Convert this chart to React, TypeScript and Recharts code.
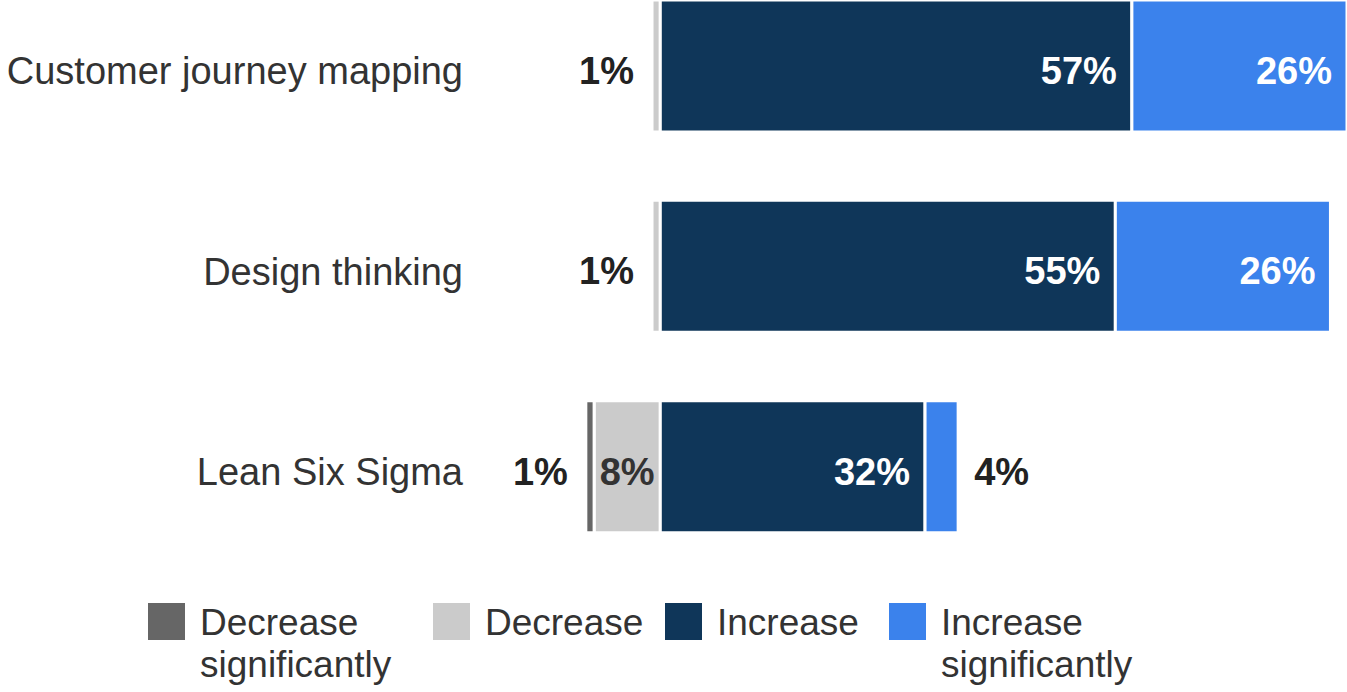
import React from 'react';
import { BarChart, Bar, XAxis, YAxis, LabelList } from 'recharts';

const categories = ['Customer journey mapping', 'Design thinking', 'Lean Six Sigma'];
const decreaseSignificantly = [0, 0, -1];
const decrease = [-1, -1, -8];
const increase = [57, 55, 32];
const increaseSignificantly = [26, 26, 4];

const seriesKeys = ['dec', 'decSig', 'inc', 'incSig'];
const seriesNames = ['Decrease', 'Decrease significantly', 'Increase', 'Increase significantly'];
const seriesColors = ['#CBCBCB', '#666666', '#0F3659', '#3B82EC'];
const legendOrder = [1, 0, 2, 3];

const data = categories.map((name, i) => ({
  name,
  decSig: decreaseSignificantly[i],
  dec: decrease[i],
  inc: increase[i],
  incSig: increaseSignificantly[i],
}));

const FONT = '"Liberation Sans", Arial, Helvetica, sans-serif';

const makeLabel = (kind: 'neg' | 'pos', insideColor: string) => (props: any) => {
  const { x, y, width, height, value } = props;
  if (!value) return null;
  const left = Math.min(x, x + width);
  const right = Math.max(x, x + width);
  const w = right - left;
  const cy = y + height / 2 + 5;
  const text = `${Math.abs(value)}%`;
  const common = {
    fontFamily: FONT,
    fontWeight: 700,
    fontSize: 38,
    dominantBaseline: 'central' as const,
  };
  if (w > 55) {
    if (kind === 'pos') {
      return (
        <text {...common} x={right - 15} y={cy} textAnchor="end" fill={insideColor}>
          {text}
        </text>
      );
    }
    return (
      <text {...common} x={(left + right) / 2} y={cy} textAnchor="middle" fill={insideColor}>
        {text}
      </text>
    );
  }
  if (kind === 'pos') {
    return (
      <text {...common} x={right + 16} y={cy} textAnchor="start" fill="#222222">
        {text}
      </text>
    );
  }
  return (
    <text {...common} x={left - 18} y={cy} textAnchor="end" fill="#222222">
      {text}
    </text>
  );
};

const labelColors: Record<string, string> = {
  dec: '#333333',
  decSig: '#ffffff',
  inc: '#ffffff',
  incSig: '#ffffff',
};

const CategoryTick = (props: any) => {
  const { x, y, payload } = props;
  return (
    <text
      x={x}
      y={y + 5}
      textAnchor="end"
      dominantBaseline="central"
      fontFamily={FONT}
      fontSize={38}
      fill="#333333"
    >
      {payload.value}
    </text>
  );
};

const Legend2 = () => {
  const lefts = [148, 433, 665, 889];
  return (
    <>
      {legendOrder.map((si, k) => {
        const name = seriesNames[si];
        const words = name.split(' ');
        return (
          <div
            key={name}
            style={{ position: 'absolute', left: lefts[k], top: 603, display: 'flex', alignItems: 'flex-start' }}
          >
            <div style={{ width: 37, height: 37, background: seriesColors[si], flex: 'none' }} />
            <div
              style={{
                marginLeft: 15,
                fontFamily: FONT,
                fontSize: 37,
                lineHeight: '42px',
                color: '#333333',
                marginTop: -1,
              }}
            >
              {words.map((w, j) => (
                <div key={j}>{w}</div>
              ))}
            </div>
          </div>
        );
      })}
    </>
  );
};

export default function App() {
  return (
    <div style={{ position: 'absolute', left: 0, top: 0, width: 1347, height: 692, background: '#fff', overflow: 'hidden' }}>
      <BarChart
        width={1347}
        height={692}
        data={data}
        layout="vertical"
        stackOffset="sign"
        margin={{ top: -34, right: 0, bottom: 125, left: 0 }}
        barSize={132}
      >
        <XAxis type="number" domain={[-23, 83]} hide allowDataOverflow />
        <YAxis
          type="category"
          dataKey="name"
          width={470}
          axisLine={false}
          tickLine={false}
          tickSize={0}
          tickMargin={7}
          tick={<CategoryTick />}
        />
        {seriesKeys.map((k, i) => (
          <Bar
            key={k}
            dataKey={k}
            stackId="a"
            fill={seriesColors[i]}
            stroke="#ffffff"
            strokeWidth={3}
            isAnimationActive={false}
            name={seriesNames[i]}
          >
            <LabelList dataKey={k} content={makeLabel(i < 2 ? 'neg' : 'pos', labelColors[k])} />
          </Bar>
        ))}
      </BarChart>
      <Legend2 />
    </div>
  );
}
